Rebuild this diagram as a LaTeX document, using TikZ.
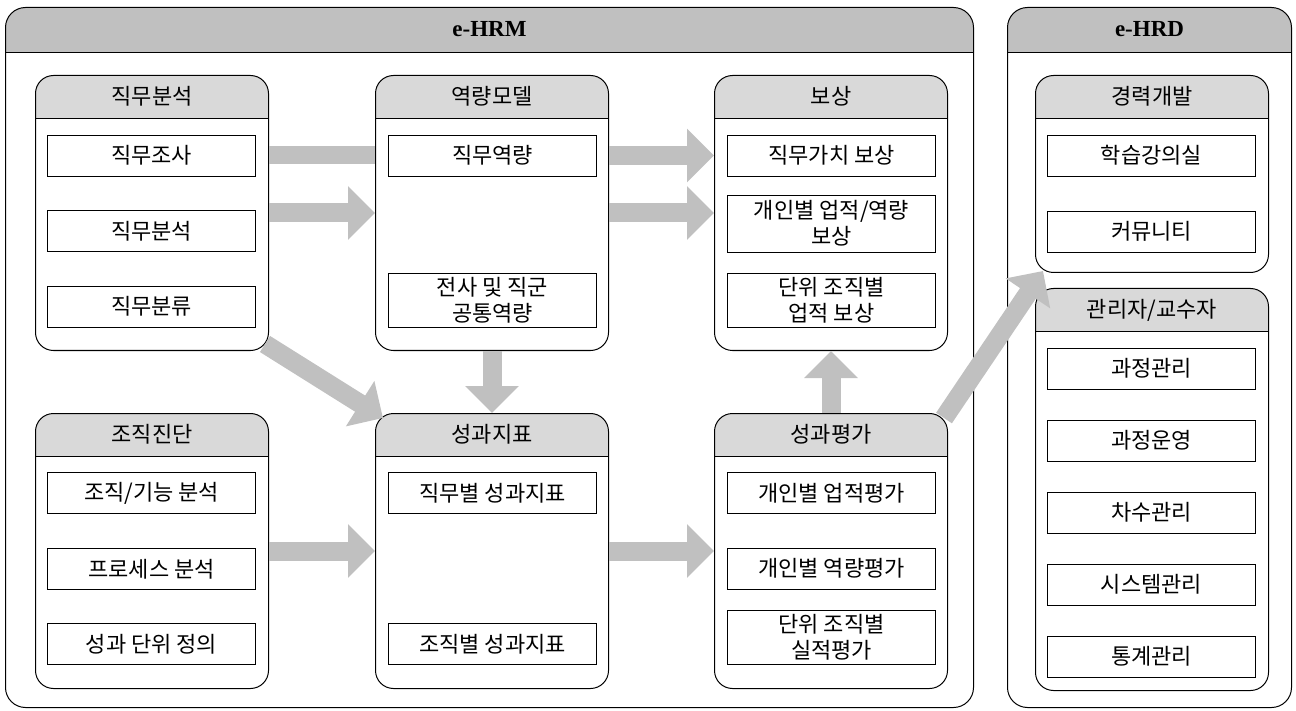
\documentclass[tikz,border=0pt]{standalone}
\usepackage{fontspec}
\setmainfont{Liberation Serif}
\newfontfamily\krfont{Noto Sans CJK KR}
\usepackage{tikz}
\usetikzlibrary{arrows.meta}
\definecolor{hdrgray}{HTML}{C0C0C0}
\definecolor{subgray}{HTML}{D9D9D9}
\definecolor{arrgray}{HTML}{C0C0C0}
\tikzset{outer box/.style={draw,line width=1pt,rounded corners=20pt,anchor=north west,inner sep=0pt,
		path picture={\fill[hdrgray,sharp corners] (path picture bounding box.north west) rectangle ([yshift=-45pt]path picture bounding box.north east);
			\draw[black,sharp corners,line width=1.2pt] ([yshift=-45pt]path picture bounding box.north west) -- ([yshift=-45pt]path picture bounding box.north east);}},
	panel/.style={draw,line width=1pt,rounded corners=18pt,anchor=north west,inner sep=0pt,
		minimum width=233pt,
		path picture={\fill[subgray,sharp corners] (path picture bounding box.north west) rectangle ([yshift=-43pt]path picture bounding box.north east);
			\draw[black,sharp corners,line width=1.2pt] ([yshift=-43pt]path picture bounding box.north west) -- ([yshift=-43pt]path picture bounding box.north east);}},
	big title/.style={font=\fontsize{23}{27}\selectfont\bfseries},
	ttl/.style={font=\krfont\fontsize{22}{26}\selectfont},
	item/.style={draw,line width=0.9pt,minimum width=208pt,minimum height=41pt,inner sep=0pt,
		align=center,font=\krfont\fontsize{22}{26}\selectfont},
	fatarrow/.style={draw=arrgray,line width=19pt,-{Triangle[width=52pt,length=27pt]}},
	fatbar/.style={draw=arrgray,line width=18pt}}
\begin{document}
\begin{tikzpicture}
	[x=1pt,y=-1pt]
	\useasboundingbox (0,0) rectangle (1296,711);
	\node [outer box,minimum width=968pt,minimum height=700pt] (hrm) at (5,7) {};
	\node [big title] (hrm-t) at ([yshift=-22.5pt]hrm.north) {e-HRM};
	\node [outer box,minimum width=284pt,minimum height=700pt] (hrd) at (1007,7) {};
	\node [big title] (hrd-t) at ([yshift=-22.5pt]hrd.north) {e-HRD};
	
	\node [panel,minimum height=275pt] (jm) at (35,75) {};
	\node [ttl] (jm-t) at ([yshift=-21.5pt]jm.north) {직무분석};
	\node [item] (jm1) at (151.5,155.5) {직무조사};
	\node [item] (jm2) at (151.5,231) {직무분석};
	\node [item] (jm3) at (151.5,306.5) {직무분류};
	
	\node [panel,minimum height=275pt] (ry) at (375,75) {};
	\node [ttl] (ry-t) at ([yshift=-21.5pt]ry.north) {역량모델};
	\node [item] (ry1) at (492.5,155.5) {직무역량};
	\node [item,minimum height=54pt] (ry2) at (492.5,300) {전사 및 직군\\공통역량};
	
	\node [panel,minimum height=275pt] (bs) at (714,75) {};
	\node [ttl] (bs-t) at ([yshift=-21.5pt]bs.north) {보상};
	\node [item] (bs1) at (831.5,155.5) {직무가치 보상};
	\node [item,minimum height=57pt] (bs2) at (831.5,223.5) {개인별 업적/역량\\보상};
	\node [item,minimum height=54pt] (bs3) at (831.5,300) {단위 조직별\\업적 보상};
	
	\node [panel,minimum height=275pt] (jj) at (35,413) {};
	\node [ttl] (jj-t) at ([yshift=-21.5pt]jj.north) {조직진단};
	\node [item] (jj1) at (151.5,493) {조직/기능 분석};
	\node [item] (jj2) at (151.5,569) {프로세스 분석};
	\node [item] (jj3) at (151.5,644) {성과 단위 정의};
	
	\node [panel,minimum height=275pt] (sj) at (375,413) {};
	\node [ttl] (sj-t) at ([yshift=-21.5pt]sj.north) {성과지표};
	\node [item] (sj1) at (492.5,493) {직무별 성과지표};
	\node [item] (sj2) at (492.5,644) {조직별 성과지표};
	
	\node [panel,minimum height=275pt] (sp) at (714,413) {};
	\node [ttl] (sp-t) at ([yshift=-21.5pt]sp.north) {성과평가};
	\node [item] (sp1) at (831.5,493) {개인별 업적평가};
	\node [item] (sp2) at (831.5,568.5) {개인별 역량평가};
	\node [item,minimum height=54pt] (sp3) at (831.5,637) {단위 조직별\\실적평가};
	
	\node [panel,minimum height=197pt] (gr) at (1035,75) {};
	\node [ttl] (gr-t) at ([yshift=-21.5pt]gr.north) {경력개발};
	\node [item] (gr1) at (1151.5,155.5) {학습강의실};
	\node [item] (gr2) at (1151.5,231.5) {커뮤니티};
	
	\node [panel,minimum height=402pt] (gg) at (1035,288) {};
	\node [ttl] (gg-t) at ([yshift=-22pt]gg.north) {관리자/교수자};
	\node [item] (gg1) at (1151.5,368.5) {과정관리};
	\node [item] (gg2) at (1151.5,440.5) {과정운영};
	\node [item] (gg3) at (1151.5,512.5) {차수관리};
	\node [item] (gg4) at (1151.5,584.5) {시스템관리};
	\node [item] (gg5) at (1151.5,656.5) {통계관리};
	
	\draw [fatbar] (jm.east |- jm1) -- (ry.west |- jm1);
	\draw [fatarrow] (jm.east) -- (ry.west);
	\draw [fatarrow] (ry.east |- ry1) -- (bs.west |- ry1);
	\draw [fatarrow] (ry.east) -- (bs.west);
	\draw [fatarrow] ([xshift=-4pt,yshift=7pt]jm.south east) -- ([xshift=8pt,yshift=-5pt]sj.north west);
	\draw [fatarrow] (ry.south) -- (sj.north);
	\draw [fatarrow] (jj.east) -- (sj.west);
	\draw [fatarrow] (sj.east) -- (sp.west);
	\draw [fatarrow] (sp.north) -- (bs.south);
	\draw [fatarrow] ([xshift=-4pt,yshift=-5pt]sp.north east) -- ([xshift=8pt,yshift=2pt]gr.south west);
\end{tikzpicture}
\end{document}
